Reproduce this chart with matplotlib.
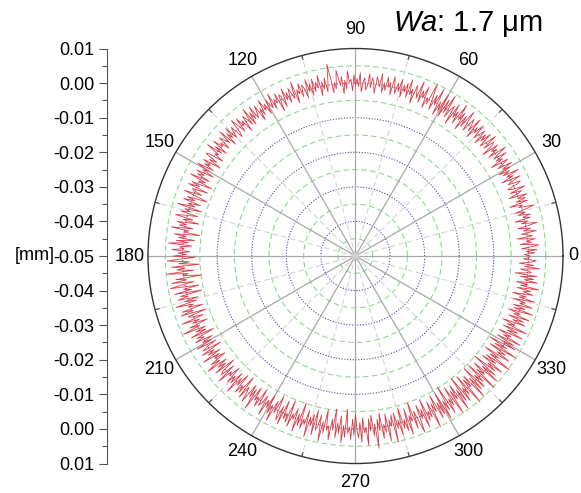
import numpy as np
import matplotlib.pyplot as plt

plt.rcParams['font.family'] = ['Liberation Sans', 'DejaVu Sans']
plt.rcParams['mathtext.fontset'] = 'custom'
plt.rcParams['mathtext.it'] = 'Liberation Sans:italic'
plt.rcParams['mathtext.rm'] = 'Liberation Sans'

# profile deviation from nominal radius, micrometres, one value every 0.5 deg
dev_um = [
    0.4, -1.2, 1.8, -0.6, 2.5, -1.9, 0.8, 3.1, -2.2, 1.0, -0.4, 2.2, -3.0, 1.5, 0.2, -1.6, 2.8, -0.9, 1.3, -2.4, 0.6, 3.4, -1.1, 0.9, -2.8, 1.7, -0.3, 2.0, -1.5, 0.7,
    -2.1, 1.4, 3.6, -0.8, 0.5, -3.2, 2.3, -1.0, 1.9, -0.2, 2.7, -2.6, 0.3, 1.6, -1.8, 3.0, -0.5, -2.0, 1.1, 2.4, -1.3, 0.0, 2.9, -2.7, 1.2, -0.7, 3.3, -1.4, 0.8, -2.3,
    1.5, -0.6, 2.6, -1.7, 0.4, 2.1, -3.1, 1.0, -0.9, 2.8, -1.2, 0.6, 3.5, -2.0, 1.3, -0.4, 2.2, -2.9, 0.9, 1.8, -1.5, 3.2, -0.3, -1.9, 2.5, -0.8, 1.4, -2.4, 2.0, 0.1,
    -1.6, 2.7, -0.5, 1.1, -2.8, 3.4, -1.3, 0.7, 2.3, -2.1, 0.2, 3.8, -1.7, 1.6, -3.3, 2.0, -0.6, 4.1, -2.5, 1.2, -1.0, 3.0, -3.6, 1.9, 0.4, -2.2, 4.4, -1.4, 2.6, -3.0,
    3.7, -1.8, 0.9, -3.4, 4.6, -0.7, 2.1, -2.6, 1.3, 5.0, -1.5, 0.3, -2.9, 3.2, -0.4, 1.7, -2.0, 4.2, -1.1, 0.6, 2.5, -3.1, 1.0, -0.8, 3.6, -1.9, 2.2, -0.5, 1.4, -2.3,
    2.8, -0.9, 1.5, -1.7, 0.4, 3.1, -2.4, 1.2, -0.3, 2.6, -1.4, 0.8, -2.1, 3.3, -0.6, 1.0, 2.2, -2.7, 0.5, 1.8, -1.2, 2.9, -0.8, -1.9, 1.6, 0.2, -2.5, 3.0, -1.0, 1.3,
    -0.7, 2.4, -2.2, 1.1, 0.3, 3.5, -1.6, 0.9, -3.0, 2.0, -0.5, 1.7, 4.0, -1.3, 0.6, -2.4, 1.9, 6.1, 0.8, -1.8, 2.3, -0.9, 1.2, -2.6, 3.4, -0.2, 1.5, -1.1, 2.7, -2.0,
    1.4, -0.6, 3.1, -2.3, 0.7, 1.8, -1.5, 2.6, -0.4, 1.0, -2.8, 3.7, -1.2, 0.5, 2.2, -1.9, 1.3, -0.8, 2.9, -2.5, 0.9, 1.6, -3.2, 2.4, -0.3, 1.1, -1.7, 3.3, -1.0, 0.4,
    2.0, -2.1, 1.2, -0.5, 3.0, -1.4, 0.8, -2.7, 2.3, 0.1, -1.2, 2.8, -0.9, 1.5, -2.2, 3.4, -1.6, 0.6, 1.9, -2.9, 1.0, -0.4, 2.5, -1.8, 0.7, 3.1, -1.1, -2.4, 1.7, 0.3,
    -1.5, 2.6, -0.7, 1.3, -2.6, 3.2, -1.0, 0.5, 2.1, -1.9, 0.9, -0.3, 2.7, -2.3, 1.4, -1.2, 3.5, -0.8, 0.2, -2.8, 1.8, 2.4, -1.6, 0.6, -3.3, 2.0, -0.5, 1.1, -2.0, 2.9,
    -1.1, 0.7, -3.0, 2.2, -0.4, 1.5, -2.5, 3.3, -1.7, 0.3, -4.1, 1.9, -0.6, 2.6, -3.5, 1.0, 0.4, -2.2, 3.0, -1.3, -4.3, 1.6, -0.9, 2.4, -2.8, 0.8, -1.5, 3.6, -3.7, 1.2,
    -0.5, 2.1, -2.9, 0.6, 3.4, -1.8, 1.0, -3.8, 2.5, -0.3, 1.7, -2.4, 3.9, -1.2, 0.2, -4.6, 2.8, -0.7, 1.4, -3.3, 2.0, -1.5, 4.2, -2.6, 0.9, -0.4, 3.1, -2.1, 1.3, -1.0,
    2.7, -3.6, 0.5, 4.5, -2.0, 1.1, -4.8, 3.2, -0.6, 1.8, -3.1, 4.9, -1.4, 0.3, -5.2, 2.4, -0.8, 3.7, -2.7, 1.0, 4.3, -3.9, 0.7, -1.6, 3.5, -4.4, 1.9, -0.2, 2.9, -3.0,
    1.2, -2.3, 4.0, -1.1, 0.6, -3.7, 2.6, -0.5, 3.3, -4.2, 1.5, 0.2, -2.8, 3.8, -1.3, 0.9, -3.4, 2.2, -0.7, 4.6, -2.1, 1.0, -1.8, 3.0, -3.9, 1.6, -0.4, 2.5, -2.6, 0.8,
    -1.7, 3.1, -2.9, 0.5, 1.9, -3.6, 2.8, -0.9, 1.3, -2.4, 3.6, -1.5, 0.4, -3.0, 2.2, -0.6, 4.1, -2.2, 1.1, -1.3, 2.7, -3.8, 0.8, 1.7, -2.5, 3.4, -1.0, 0.2, -3.2, 2.0,
    -0.8, 1.4, -2.7, 3.9, -1.6, 0.7, -3.5, 2.5, -0.3, 1.8, -4.0, 2.9, -1.2, 0.6, 3.2, -2.8, 1.0, -1.9, 4.4, -3.1, 0.9, -0.5, 2.3, -3.7, 1.5, 0.3, -2.2, 3.6, -1.4, 0.8,
    -3.3, 2.1, -0.7, 4.0, -2.5, 1.2, -4.5, 0.6, 2.7, -1.8, 3.5, -3.9, 1.4, -0.4, 2.2, -4.7, 3.1, -1.0, 0.5, -2.9, 3.8, -1.5, 1.9, -5.1, 2.4, -0.6, 1.0, -3.4, 4.3, -1.7,
    0.9, -2.6, 3.3, -4.2, 1.6, 0.2, -3.0, 4.6, -1.2, 2.0, -4.9, 1.1, -0.3, 3.7, -2.3, 0.7, -5.4, 2.9, -1.4, 1.5, -3.6, 4.1, -0.8, 2.5, -5.6, 1.3, -0.5, 3.0, -2.8, 1.8,
    -4.3, 0.6, 2.6, -1.9, 3.9, -3.2, 1.2, -0.4, 4.8, -2.7, 0.8, -3.8, 2.3, -1.1, 6.0, -2.4, 1.0, -4.1, 3.4, -0.6, 1.7, -3.5, 4.5, -1.6, 0.3, -2.9, 5.2, -3.3, 1.4, -1.0,
    3.6, -4.4, 1.9, -0.7, 2.8, -3.7, 4.2, -1.3, 0.5, -5.0, 3.0, -2.1, 1.2, 4.7, -3.4, 0.9, -1.8, 3.9, -4.6, 2.2, -0.4, 1.6, -3.1, 5.1, -2.0, 0.7, -4.2, 3.2, -1.5, 2.4,
    -3.9, 4.4, -1.0, 2.1, -5.3, 3.6, -0.6, 1.5, -4.0, 5.0, -2.2, 0.8, -3.6, 4.7, -1.4, 2.6, -5.1, 3.3, -0.9, 1.8, -4.4, 5.4, -2.5, 0.4, -3.2, 4.9, -1.7, 2.9, -4.8, 3.0,
    -1.2, 1.7, -4.5, 5.2, -2.0, 0.6, -3.8, 4.6, -1.5, 3.1, -5.0, 2.3, -0.7, 4.0, -3.3, 1.1, -2.6, 5.3, -1.9, 0.9, -4.1, 3.7, -0.5, 2.0, -3.5, 4.8, -2.4, 1.3, -4.6, 3.4,
    -0.8, 2.5, -3.0, 4.1, -1.6, 0.7, -3.4, 3.8, -1.1, 1.9, -2.8, 4.4, -2.0, 0.3, -3.7, 3.0, -0.9, 2.2, -2.5, 3.6, -1.3, 0.5, -3.1, 4.0, -1.8, 1.4, -2.2, 3.3, -0.6, 1.0,
    -2.7, 3.5, -1.2, 0.8, -3.3, 2.6, -0.4, 1.7, -2.4, 3.9, -1.5, 0.6, -2.9, 3.2, -0.7, 2.0, -1.9, 2.8, -3.6, 1.1, 0.4, -2.1, 3.4, -1.0, 1.6, -2.6, 0.9, 2.3, -1.4, 0.2,
]
step_deg = 0.5

r_min, r_max = -0.05, 0.01          # mm, centre and rim of the polar plot
blue_rings = [-0.04, -0.03, -0.02, -0.01, 0.00]
green_rings = [-0.045, -0.035, -0.025, -0.015, -0.005, 0.005]
angle_labels = ['0', '30', '60', '90', '120', '150', '180', '210', '240', '270', '300', '330']
scale_ticks = [-6, -5, -4, -3, -2, -1, 0, 1, 2, 3, 4, 5, 6]
scale_labels = ['0.01', '0.00', '-0.01', '-0.02', '-0.03', '-0.04', '-0.05',
                '-0.04', '-0.03', '-0.02', '-0.01', '0.00', '0.01']

fig = plt.figure(figsize=(5.81, 4.93), dpi=100)
ax = fig.add_axes([0.2547, 0.0598, 0.7143, 0.8418], projection='polar')

full = np.linspace(0, 2 * np.pi, 721)
off = -r_min  # shift so the centre is r = 0

for v in green_rings:
    ax.plot(full, np.full_like(full, v + off), color='#8fd88f', lw=0.8, ls=(0, (5, 3)), zorder=1)
for v in blue_rings:
    ax.plot(full, np.full_like(full, v + off), color='#4a4aa8', lw=0.8, ls=(0, (1, 1.5)), zorder=1)

for a in range(0, 360, 30):
    t = np.deg2rad(a)
    ax.plot([t, t], [0, r_max + off], color='#a8a8a8', lw=0.9, zorder=1)
for a in range(15, 360, 30):
    t = np.deg2rad(a)
    ax.plot([t, t], [0, r_max + off], color='#d4d4d4', lw=0.8, ls=(0, (5, 3)), zorder=1)
    ax.plot([t, t], [r_max + off - 0.0012, r_max + off], color='#555555', lw=0.9, zorder=3)

theta = np.deg2rad(np.arange(len(dev_um)) * step_deg)
r = np.array(dev_um) / 1000.0 + off
ax.plot(np.append(theta, theta[0]), np.append(r, r[0]), color='#dc3c46', lw=0.6, zorder=2)

ax.set_ylim(0, r_max + off)
ax.set_yticks([])
ax.set_thetagrids(np.arange(0, 360, 30), [''] + angle_labels[1:], fontsize=13)
ax.tick_params(axis='x', pad=3)
ax.grid(False)
ax.spines['polar'].set_color('#333333')
ax.spines['polar'].set_linewidth(1.0)
# the "0" label sits close to the right edge of the figure
fig.text(568 / 581, 1 - 256 / 493, angle_labels[0], fontsize=13, ha='left', va='center')

# linear scale on the left
sx = fig.add_axes([0.1842, 0.0598, 0.001, 0.8418])
sx.set_ylim(-6, 6)
sx.set_yticks(scale_ticks)
sx.set_yticklabels(scale_labels, fontsize=13)
sx.set_yticks(np.arange(-5.5, 6, 1), minor=True)
sx.tick_params(axis='y', which='major', length=6, width=0.8, color='#555555', pad=3)
sx.tick_params(axis='y', which='minor', length=3.5, width=0.8, color='#555555')
sx.set_xticks([])
for s in ['top', 'right', 'bottom']:
    sx.spines[s].set_visible(False)
sx.spines['left'].set_color('#555555')
sx.spines['left'].set_linewidth(0.8)
fig.text(55 / 581, 1 - 256 / 493, '[mm]', fontsize=13, ha='right', va='center')

fig.text(393 / 581, 1 - 24 / 493, r'$\mathit{Wa}$: 1.7 μm', fontsize=21, ha='left', va='center')

fig.savefig('out.png', dpi=100)
